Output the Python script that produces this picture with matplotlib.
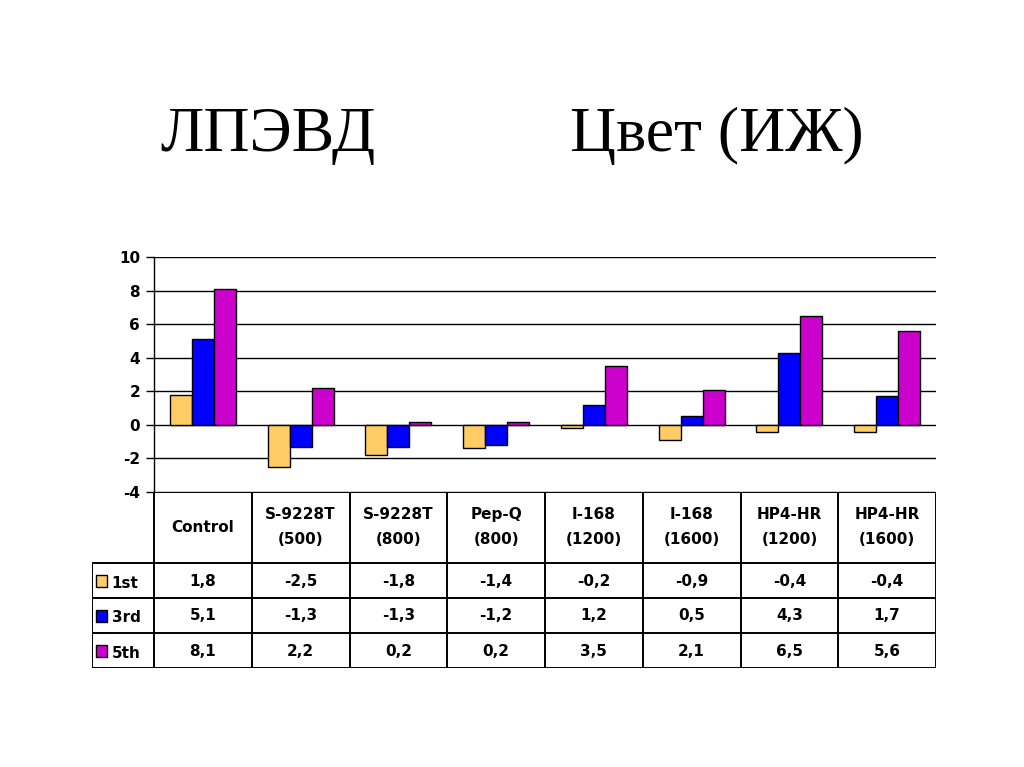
import matplotlib.pyplot as plt
import numpy as np
from matplotlib.patches import Rectangle

categories = ['Control', 'S-9228T\n(500)', 'S-9228T\n(800)', 'Pep-Q\n(800)',
              'I-168\n(1200)', 'I-168\n(1600)', 'HP4-HR\n(1200)', 'HP4-HR\n(1600)']
series = ['1st', '3rd', '5th']
first = [1.8, -2.5, -1.8, -1.4, -0.2, -0.9, -0.4, -0.4]
third = [5.1, -1.3, -1.3, -1.2, 1.2, 0.5, 4.3, 1.7]
fifth = [8.1, 2.2, 0.2, 0.2, 3.5, 2.1, 6.5, 5.6]
colors = ['#FFCC66', '#0000FF', '#CC00CC']

font = 'DejaVu Sans'
fs = 11

fig = plt.figure(figsize=(10.24, 7.67), dpi=100)
fig.text(0.262, 0.823, 'ЛПЭВД', family='Liberation Serif', fontsize=46,
         ha='center', va='center')
fig.text(0.700, 0.823, 'Цвет (ИЖ)', family='Liberation Serif', fontsize=46,
         ha='center', va='center')

# bar chart
ax = fig.add_axes([154/1024, 275/767, 782/1024, 235/767])
x = np.arange(len(categories)) + 0.5
w = 0.225
for i, (vals, c) in enumerate(zip([first, third, fifth], colors)):
    ax.bar(x + (i - 1) * w, vals, w, color=c, edgecolor='black', linewidth=1, zorder=3)
ax.set_xlim(0, 8)
ax.set_ylim(-4, 10)
ax.set_yticks(range(-4, 11, 2))
ax.set_yticklabels([str(t) for t in range(-4, 11, 2)], family=font,
                   fontweight='bold', fontsize=fs)
ax.yaxis.grid(True, color='black', linewidth=1, zorder=0)
ax.set_xticks([])
ax.tick_params(axis='y', direction='out', length=6, width=1, pad=4)
for s in ['top', 'right', 'bottom']:
    ax.spines[s].set_visible(False)
ax.spines['left'].set_linewidth(1)

# data table
lab_w = 62 / 97.75
tb = fig.add_axes([92/1024, 99/767, 844/1024, 176/767])
tb.set_xlim(-lab_w, 8)
tb.set_ylim(176, 0)
tb.axis('off')
lw = 1.4
for i in range(9):
    tb.plot([i, i], [0, 176], color='black', lw=lw)
tb.plot([0, 8], [0, 0], color='black', lw=lw)
for r in range(4):
    y = 71 + r * 35
    tb.plot([-lab_w, 8], [y, y], color='black', lw=lw)
tb.plot([-lab_w, -lab_w], [71, 176], color='black', lw=lw)
for i, cat in enumerate(categories):
    tb.text(i + 0.5, 35, cat, ha='center', va='center', family=font,
            fontweight='bold', fontsize=fs, linespacing=1.9)
for r, (name, vals, c) in enumerate(zip(series, [first, third, fifth], colors)):
    yc = 71 + r * 35 + 18
    tb.add_patch(Rectangle((-lab_w + 0.04, yc - 6), 0.11, 12, facecolor=c,
                           edgecolor='black', lw=1))
    tb.text(-lab_w + 0.2, yc + 2, name, ha='left', va='center', family=font,
            fontweight='bold', fontsize=fs)
    for i, v in enumerate(vals):
        tb.text(i + 0.5, yc, f'{v:.1f}'.replace('.', ','), ha='center',
                va='center', family=font, fontweight='bold', fontsize=fs)

fig.savefig('out.png', dpi=100)
